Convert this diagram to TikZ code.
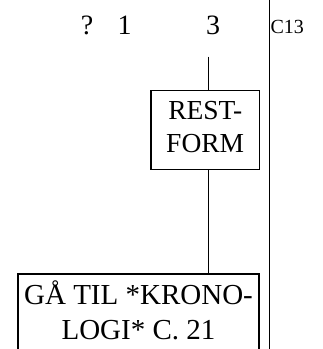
\documentclass[tikz,border=0pt]{standalone}
\usepackage{fontspec}
\setmainfont{Liberation Serif}
\begin{document}
\begin{tikzpicture}[x=1pt,y=-1pt,
  line/.style={line width=1.2pt},
  boxed/.style={draw,line width=1.2pt,align=center,inner sep=0pt},
  lbl/.style={anchor=base,inner sep=0pt,font=\fontsize{28}{33}\selectfont}]
\useasboundingbox (0,0) rectangle (323,349);
\node[lbl] (q) at (87,34.3) {?};
\node[lbl] (one) at (124.5,34.3) {1};
\node[lbl] (three) at (213,34.3) {3};
\node[anchor=base west,inner sep=0pt,font=\fontsize{20}{22}\selectfont] (c13) at (270.3,33.5) {C13};
\coordinate (vtop) at (269.3,0);
\coordinate (vbot) at (269.3,349);
\draw[line] (vtop) -- (vbot);
\coordinate (t3) at (208.7,56.7);
\node[boxed,minimum width=108.3pt,minimum height=78.6pt,text depth=6pt,
  font=\fontsize{27.5}{33}\selectfont] (rest) at (205.2,130) {REST-\\FORM};
\node[boxed,minimum width=241pt,minimum height=80.6pt,text depth=8pt,
  font=\fontsize{29}{35}\selectfont] (gaa) at (138.5,314.3) {GÅ TIL *KRONO-\\LOGI* C. 21};
\draw[line] (t3) -- (t3 |- rest.north);
\draw[line] (t3 |- rest.south) -- (t3 |- gaa.north);
\end{tikzpicture}
\end{document}
